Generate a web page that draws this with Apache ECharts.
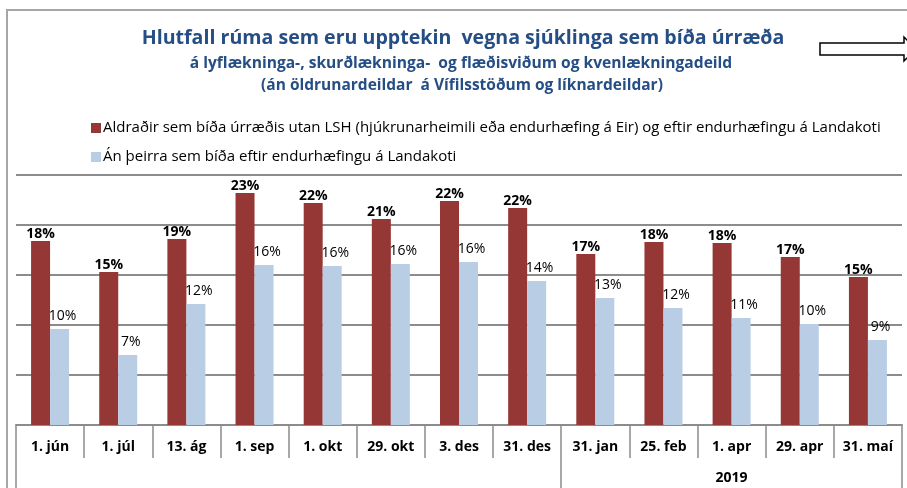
<!DOCTYPE html>
<html>
<head>
<meta charset="utf-8">
<script src="https://cdn.jsdelivr.net/npm/echarts@6/dist/echarts.min.js"></script>
<style>
  html, body { margin: 0; padding: 0; background: #fff; }
  #chart { width: 907px; height: 488px; }
</style>
</head>
<body>
<div id="chart"></div>
<script>
// data (percent)
const categories = ['1. jún', '1. júl', '13. ág', '1. sep', '1. okt', '29. okt', '3. des', '31. des',
  '31. jan', '25. feb', '1. apr', '29. apr', '31. maí'];
const yearLabels = ['', '', '', '', '', '', '', '', '', '', '2019', '', ''];
const waitingAll = [18.4, 15.3, 18.6, 23.2, 22.2, 20.6, 22.4, 21.7, 17.1, 18.3, 18.2, 16.8, 14.8];
const waitingNoRehab = [9.6, 7.0, 12.1, 16.0, 15.9, 16.1, 16.3, 14.4, 12.7, 11.7, 10.7, 10.1, 8.5];
const seriesNames = [
  'Aldraðir sem bíða úrræðis utan LSH (hjúkrunarheimili eða endurhæfing á Eir) og eftir endurhæfingu á Landakoti',
  'Án þeirra sem bíða eftir endurhæfingu á Landakoti'
];
const titleLines = [
  'Hlutfall rúma sem eru upptekin  vegna sjúklinga sem bíða úrræða',
  'á lyflækninga-, skurðlækninga-  og flæðisviðum og kvenlækningadeild',
  '(án öldrunardeildar  á Vífilsstöðum og líknardeildar)'
];

const FONT = 'Open Sans';
const BLUE = '#254E85';
const GRID = '#8c8c8c';

let chart = echarts.init(document.getElementById('chart'), null, { renderer: 'canvas' });

function titleLine(text, left, top, size) {
  return {
    text: text, left: left, top: top, textAlign: 'center', padding: 0,
    textStyle: { fontFamily: FONT, fontSize: size, fontWeight: 'bold', color: BLUE }
  };
}

const option = {
  animation: false,
  backgroundColor: '#fff',
  textStyle: { fontFamily: FONT },
  title: [
    titleLine(titleLines[0], 463, 28, 19.6),
    titleLine(titleLines[1], 461, 56, 15.6),
    titleLine(titleLines[2], 462, 78, 15.5)
  ],
  legend: {
    orient: 'vertical',
    left: 86,
    top: 114,
    itemWidth: 10,
    itemHeight: 10,
    itemGap: 11,
    icon: 'rect',
    selectedMode: false,
    textStyle: { fontFamily: FONT, fontSize: 15, lineHeight: 18, color: '#000', padding: [0, 0, 0, -3] },
    data: seriesNames
  },
  grid: { left: 16, right: 5, top: 175, bottom: 63, containLabel: false },
  xAxis: [
    {
      type: 'category',
      data: categories,
      axisLine: { lineStyle: { color: GRID, width: 2 } },
      axisTick: { show: true, length: 33, interval: 0, lineStyle: { color: GRID, width: 1.5 } },
      axisLabel: { interval: 0, margin: 15, fontFamily: FONT, fontSize: 14, fontWeight: 'bold', color: '#000' }
    },
    {
      type: 'category',
      data: yearLabels,
      position: 'bottom',
      axisLine: { show: false },
      axisTick: {
        show: true, length: 66,
        interval: function (i) { return i === 0 || i === 8; },
        lineStyle: { color: GRID, width: 1.5 }
      },
      axisLabel: { interval: 0, margin: 46, fontFamily: FONT, fontSize: 14, fontWeight: 'bold', color: '#000' }
    }
  ],
  yAxis: {
    type: 'value',
    min: 0,
    max: 25,
    interval: 5,
    axisLine: { show: false },
    axisTick: { show: false },
    axisLabel: { show: false },
    splitLine: { lineStyle: { color: GRID, width: 2 } }
  },
  series: [
    {
      name: seriesNames[0],
      type: 'bar',
      data: waitingAll,
      barWidth: 19,
      barGap: '0%',
      itemStyle: { color: '#953735' },
      label: {
        show: true, position: 'top', distance: 0,
        fontFamily: FONT, fontSize: 14, fontWeight: 'bold', color: '#000',
        formatter: p => Math.round(p.value) + '%'
      }
    },
    {
      name: seriesNames[1],
      type: 'bar',
      data: waitingNoRehab,
      barWidth: 19,
      itemStyle: { color: '#B9CDE5' },
      label: {
        show: true, position: 'top', distance: 6, offset: [3, 0],
        fontFamily: FONT, fontSize: 14, color: '#000',
        formatter: p => Math.round(p.value) + '%'
      }
    }
  ],
  graphic: [
    {
      type: 'rect',
      shape: { x: 7, y: 10, width: 920, height: 500 },
      style: { fill: 'none', stroke: '#a6a6a6', lineWidth: 2 },
      silent: true, z: -1
    },
    {
      type: 'polygon',
      shape: { points: [[820, 43], [904, 43], [904, 37], [916, 49], [904, 61], [904, 55], [820, 55]] },
      style: { fill: '#fff', stroke: '#000', lineWidth: 1.5 },
      silent: true
    }
  ]
};

chart.setOption(option);
</script>
</body>
</html>
